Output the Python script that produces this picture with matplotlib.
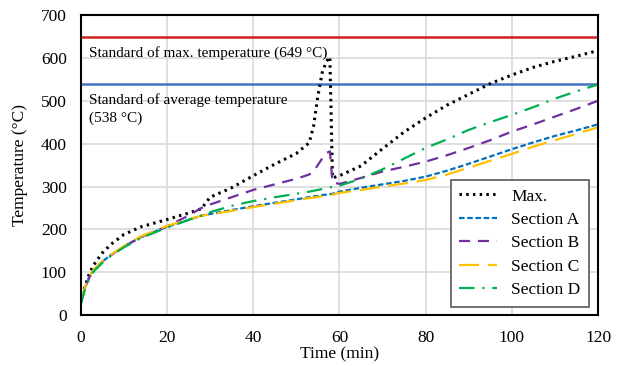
import matplotlib
matplotlib.use("Agg")
import matplotlib.pyplot as plt

# time (min)
TIME = [0, 1, 2, 3, 5, 7, 10, 14, 20, 25, 28, 30, 35, 40, 45, 50, 53, 54, 55, 56,
        57, 57.8, 58.4, 60, 65, 70, 75, 80, 85, 90, 95, 100, 105, 110, 115, 120]

MAX_T = [30, 68, 97, 117, 145, 165, 188, 206, 223, 238, 248, 275, 297, 325, 352, 377,
         402, 440, 510, 565, 592, 602, 320, 325, 348, 388, 427, 460, 490, 515, 540, 560,
         578, 592, 604, 617]
SEC_A = [28, 65, 90, 105, 125, 140, 160, 182, 206, 222, 232, 236, 245, 254, 262, 270,
         275, 277, 278, 280, 281, 282, 283, 288, 297, 305, 313, 323, 337, 353, 370, 387,
         403, 418, 431, 445]
SEC_B = [28, 64, 88, 104, 124, 140, 160, 182, 207, 232, 250, 258, 275, 292, 305, 318,
         328, 335, 350, 365, 378, 382, 310, 306, 320, 335, 346, 358, 373, 390, 408, 428,
         445, 463, 481, 500]
SEC_C = [30, 66, 91, 106, 126, 141, 161, 184, 208, 223, 232, 235, 243, 252, 260, 268,
         273, 274, 276, 277, 279, 280, 281, 285, 292, 300, 307, 315, 328, 344, 360, 376,
         393, 408, 423, 438]
SEC_D = [25, 60, 85, 102, 122, 138, 158, 180, 204, 222, 232, 240, 255, 266, 275, 283,
         288, 290, 292, 294, 296, 298, 299, 302, 318, 340, 365, 390, 410, 432, 450, 467,
         485, 505, 522, 538]

STD_MAX = 649
STD_AVG = 538

plt.rcParams["font.family"] = ["Liberation Serif", "DejaVu Serif"]
plt.rcParams["font.size"] = 12.5

fig = plt.figure(figsize=(6.21, 3.66), dpi=100)
ax = fig.add_axes([0.130, 0.139, 0.833, 0.820])

ax.axhline(STD_MAX, color="#D0201C", linewidth=1.8)
ax.axhline(STD_AVG, color="#4472C4", linewidth=1.8)

ax.plot(TIME, MAX_T, color="black", linewidth=2.2, linestyle=(0, (0.8, 1.4)),
        label="Max.")
ax.plot(TIME, SEC_A, color="#0070C0", linewidth=1.6, linestyle=(0, (2.5, 1.2)),
        label="Section A")
ax.plot(TIME, SEC_B, color="#7030A0", linewidth=1.6, linestyle=(0, (5, 3.5)),
        label="Section B")
ax.plot(TIME, SEC_C, color="#FFC000", linewidth=1.6, linestyle=(0, (9, 4)),
        label="Section C")
ax.plot(TIME, SEC_D, color="#00B050", linewidth=1.6, linestyle=(0, (7, 3.5, 1, 3.5)),
        label="Section D")

ax.text(2, 611, "Standard of max. temperature (649 \u00b0C)", va="center", ha="left",
        fontsize=11)
ax.text(2, 502, "Standard of average temperature", va="center", ha="left",
        fontsize=11)
ax.text(2, 460, "(538 \u00b0C)", va="center", ha="left", fontsize=11)

ax.set_xlim(0, 120)
ax.set_ylim(0, 700)
ax.set_xticks(range(0, 121, 20))
ax.set_yticks(range(0, 701, 100))
ax.grid(color="#D9D9D9", linewidth=1.2)
ax.set_axisbelow(True)
ax.tick_params(axis="x", length=0, pad=11)
ax.tick_params(axis="y", length=0, pad=10)
for sp in ax.spines.values():
    sp.set_linewidth(1.5)
    sp.set_color("black")

ax.set_xlabel("Time (min)", labelpad=0)
ax.set_ylabel("Temperature (\u00b0C)", labelpad=9)

leg = ax.legend(loc="lower right", bbox_to_anchor=(0.983, 0.027), borderaxespad=0,
                fancybox=False, edgecolor="#595959", framealpha=1, handlelength=2.2,
                labelspacing=0.42, borderpad=0.5, fontsize=12.5)
leg.get_frame().set_linewidth(1.2)

fig.savefig("out.png", dpi=100)
